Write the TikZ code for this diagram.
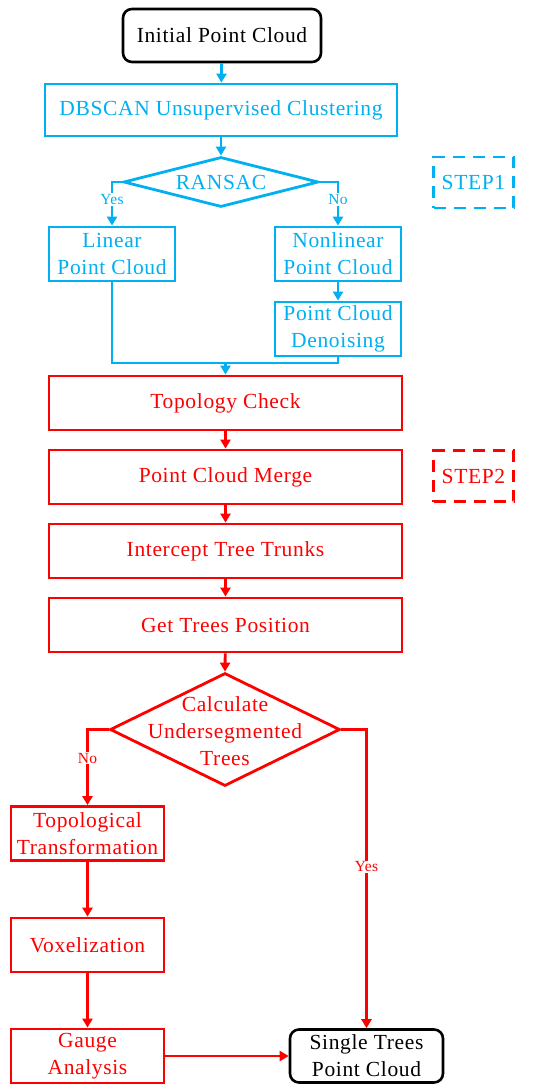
\documentclass[tikz,border=0pt]{standalone}
\usepackage{fontspec}
\setmainfont{Liberation Serif}[LetterSpace=3]
\usetikzlibrary{shapes.geometric,arrows.meta}
\definecolor{fblue}{RGB}{0,176,240}
\definecolor{fred}{RGB}{255,0,0}
\tikzset{
  x=1pt,y=-1pt,
  every node/.style={font=\fontsize{21.5}{27}\selectfont, align=center, inner sep=0pt},
  box/.style={draw, line width=2.8pt, rectangle, minimum width=#1, minimum height=54},
  box/.default=126,
  startbox/.style={draw=black, text=black, line width=2.6pt, rounded corners=9pt, minimum width=#1, minimum height=53},
  bluec/.style={draw=fblue, text=fblue},
  redc/.style={draw=fred, text=fred},
  steplbl/.style={draw, dashed, dash pattern=on 12pt off 8pt, line width=2.8pt, minimum width=80, minimum height=51},
  conn/.style={line width=2.8pt, -{Triangle[length=9pt,width=10pt]}},
  plain/.style={line width=2.8pt},
  yn/.style={font=\fontsize{15.5}{17}\selectfont, fill=white, inner sep=1pt}
}
\begin{document}
\begin{tikzpicture}
\useasboundingbox (0,0) rectangle (550,1090);
% STEP 1
\node[startbox=198] (init) at (222,35.5) {Initial Point Cloud};
\node[box=352, bluec, minimum height=52] (dbscan) at (221,110) {DBSCAN Unsupervised Clustering};
\node[draw=fblue, text=fblue, line width=2.8pt, diamond, shape aspect=3.9, minimum width=195, minimum height=50] (ransac) at (221,182) {RANSAC};
\node[box, bluec] (linear) at (112,254) {Linear\\Point Cloud};
\node[box, bluec] (nonlin) at (338,254) {Nonlinear\\Point Cloud};
\node[box, bluec] (denoise) at (338,329) {Point Cloud\\Denoising};
\node[steplbl, draw=fblue, text=fblue] (step1) at (473.5,182.5) {STEP1};
% STEP 2
\node[box=353, redc] (topo) at (225.5,403) {Topology Check};
\node[box=353, redc] (merge) at (225.5,477) {Point Cloud Merge};
\node[box=353, redc] (intercept) at (225.5,551) {Intercept Tree Trunks};
\node[box=353, redc] (getpos) at (225.5,625) {Get Trees Position};
\node[steplbl, draw=fred, text=fred] (step2) at (473.5,476) {STEP2};
\node[draw=fred, line width=2.8pt, diamond, minimum width=230, minimum height=113] (calc) at (225,729.5) {};
\node[text=fred] (calctext) at (225,731) {Calculate\\Undersegmented\\Trees};
\node[box=153, redc] (topt) at (87.5,833.5) {Topological\\Transformation};
\node[box=153, redc] (vox) at (87.5,945) {Voxelization};
\node[box=153, redc] (gauge) at (87.5,1056) {Gauge\\Analysis};
\node[startbox=153] (single) at (366.5,1056) {Single Trees\\Point Cloud};
\coordinate (join) at (225.5,363);
% connectors blue
\draw[conn, fblue] (init) -- (dbscan);
\draw[conn, fblue] (dbscan) -- (ransac);
\draw[conn, fblue] (ransac.west) -| node[yn, text=fblue, pos=0.7] (yes1) {Yes} (linear.north);
\draw[conn, fblue] (ransac.east) -| node[yn, text=fblue, pos=0.7] (no1) {No} (nonlin.north);
\draw[conn, fblue] (nonlin) -- (denoise);
\draw[plain, fblue] (linear.south) |- (join) -| (denoise.south);
\draw[conn, fblue] (join) -- (topo.north);
% connectors red
\draw[conn, fred] (topo) -- (merge);
\draw[conn, fred] (merge) -- (intercept);
\draw[conn, fred] (intercept) -- (getpos);
\draw[conn, fred] (getpos) -- (calc.north);
\draw[conn, fred] (calc.west) -| node[yn, text=fred, pos=0.69] (no2) {No} (topt.north);
\draw[conn, fred] (calc.east) -| node[yn, text=fred, pos=0.73] (yes2) {Yes} (single.north);
\draw[conn, fred] (topt) -- (vox);
\draw[conn, fred] (vox) -- (gauge);
\draw[conn, fred] (gauge) -- (single);
\end{tikzpicture}
\end{document}
